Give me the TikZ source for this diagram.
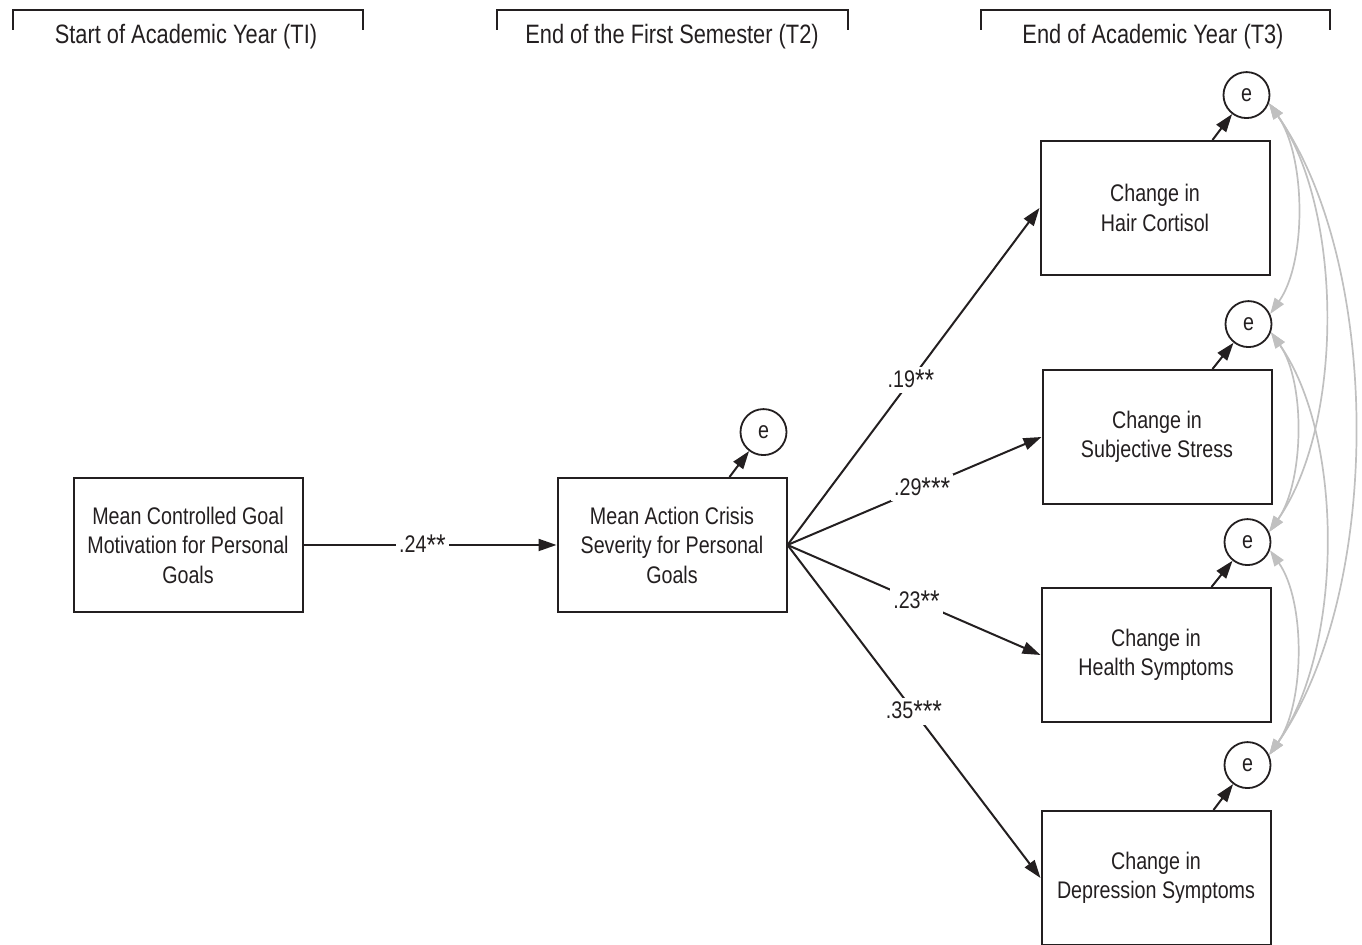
\documentclass[tikz,border=0pt]{standalone}
\usepackage{fontspec}
\setmainfont{Liberation Sans}[FakeStretch=0.82]
\usetikzlibrary{positioning,arrows.meta,calc}
\definecolor{cInk}{RGB}{35,31,32}
\definecolor{cCov}{RGB}{192,192,192}
\newcommand{\sig}{\raisebox{-0.12em}{\fontsize{15}{15}\selectfont*}}

\begin{document}
\begin{tikzpicture}[x=0.5pt,y=0.5pt,font=\fontsize{12}{14.75}\selectfont,text=cInk]
\tikzset{var/.style={draw=cInk,line width=1pt,minimum width=114.5pt,minimum height=67pt,align=center,inner sep=2pt},
  err/.style={draw=cInk,circle,line width=0.9pt,minimum size=23pt,inner sep=0pt},
  path/.style={draw=cInk,line width=1pt,-{Triangle[length=9pt,width=6pt]}},
  cov/.style={draw=cCov,line width=0.85pt,{Triangle[length=8pt,width=5.5pt]}-{Triangle[length=8pt,width=5.5pt]},looseness=0.78},
  coef/.style={fill=white,inner sep=1.5pt},
  period/.style={font=\fontsize{13.3}{15}\selectfont},
  bracket/.style={draw=cInk,line width=0.8pt}}
\useasboundingbox (0,0) rectangle (1362,945);

% time points
\node[period] (t1) at (186,908) {Start of Academic Year (TI)};
\node[period] (t2) at (672,908) {End of the First Semester (T2)};
\node[period] (t3) at (1153,908) {End of Academic Year (T3)};
\draw[bracket] (13,915) |- (363,935) -- (363,915);
\draw[bracket] (497,915) |- (848,935) -- (848,915);
\draw[bracket] (981,915) |- (1330,935) -- (1330,915);

% variables
\node[var] (mot) at (188,400) {Mean Controlled Goal\\Motivation for Personal\\Goals};
\node[var] (crisis) at (672,400) {Mean Action Crisis\\Severity for Personal\\Goals};
\node[var] (cort) at (1155,737) {Change in\\Hair Cortisol};
\node[var] (stress) at (1157,508) {Change in\\Subjective Stress};
\node[var] (health) at (1156,290) {Change in\\Health Symptoms};
\node[var] (depr) at (1156,67) {Change in\\Depression Symptoms};

% residuals
\node[err,above=10.5pt of crisis.north east,xshift=-12pt] (ecrisis) {e};
\node[err,above=10.5pt of cort.north east,xshift=-12pt] (ecort) {e};
\node[err,above=10.5pt of stress.north east,xshift=-12pt] (estress) {e};
\node[err,above=10.5pt of health.north east,xshift=-12pt] (ehealth) {e};
\node[err,above=10.5pt of depr.north east,xshift=-12pt] (edepr) {e};
\draw[path] ($(crisis.north east)+(-58,0)$) -- (ecrisis);
\draw[path] ($(cort.north east)+(-58,0)$) -- (ecort);
\draw[path] ($(stress.north east)+(-60,0)$) -- (estress);
\draw[path] ($(health.north east)+(-60,0)$) -- (ehealth);
\draw[path] ($(depr.north east)+(-58,0)$) -- (edepr);

% paths
\draw[path] (mot.east) -- node[coef,pos=0.47] {.24\sig\sig} (crisis.west);
\draw[path] (crisis.east) -- node[coef,pos=0.49] {.19\sig\sig} (cort.west);
\draw[path] (crisis.east) -- node[coef,pos=0.53] {.29\sig\sig\sig} (stress.west);
\draw[path] (crisis.east) -- node[coef,pos=0.51] {.23\sig\sig} (health.west);
\draw[path] (crisis.east) -- node[coef,pos=0.5] {.35\sig\sig\sig} (depr.west);

% residual covariances
\draw[cov] (ecort.-20) to[out=-55,in=55] (estress.25);
\draw[cov] (ecort.-20) to[out=-55,in=55] (ehealth.25);
\draw[cov] (ecort.-20) to[out=-55,in=55] (edepr.25);
\draw[cov] (estress.-20) to[out=-55,in=55] (ehealth.25);
\draw[cov] (estress.-20) to[out=-55,in=55] (edepr.25);
\draw[cov] (ehealth.-20) to[out=-55,in=55] (edepr.25);
\end{tikzpicture}
\end{document}
